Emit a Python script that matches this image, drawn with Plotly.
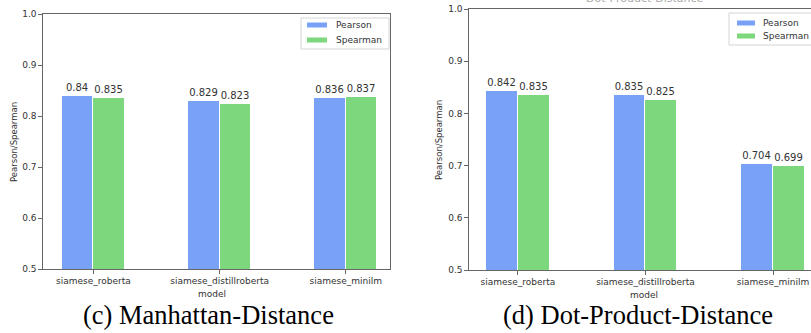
import plotly.graph_objects as go

models = ["siamese_roberta", "siamese_distillroberta", "siamese_minilm"]
series_names = ["Pearson", "Spearman"]
manhattan_pearson = [0.84, 0.829, 0.836]
manhattan_spearman = [0.835, 0.823, 0.837]
dot_pearson = [0.842, 0.835, 0.704]
dot_spearman = [0.835, 0.825, 0.699]
y_ticks = [0.5, 0.6, 0.7, 0.8, 0.9, 1.0]
captions = ["(c) Manhattan-Distance", "(d) Dot-Product-Distance"]

BLUE = "#79a2f6"
GREEN = "#7dd77c"
FONT = "DejaVu Sans"
TXT = "#333333"
xs = list(range(len(models)))

fig = go.Figure()

def add_pair(pear, spear, xa, ya):
    for name, vals, off, col in [(series_names[0], pear, -0.25, BLUE), (series_names[1], spear, 0.0, GREEN)]:
        fig.add_trace(go.Bar(
            x=xs, y=vals, width=0.25, offset=off, name=name, showlegend=False,
            marker=dict(color=col, line=dict(color="white", width=1)),
            text=[f"{v:g}" for v in vals], textposition="outside",
            textfont=dict(family=FONT, size=10, color=TXT),
            cliponaxis=False, xaxis=xa, yaxis=ya,
        ))

add_pair(manhattan_pearson, manhattan_spearman, "x", "y")
add_pair(dot_pearson, dot_spearman, "x2", "y2")

W, H = 811, 333
def px(x):
    return x / W
def py(y):
    return 1 - y / H

axis_common = dict(showgrid=False, zeroline=False, showline=True, linecolor="#666666",
                   linewidth=1.3, ticks="outside", ticklen=3.5, tickcolor="#666666",
                   tickfont=dict(family=FONT, size=9, color=TXT))

fig.update_layout(
    width=W, height=H, margin=dict(l=0, r=0, t=0, b=0, autoexpand=False),
    paper_bgcolor="white", plot_bgcolor="white", bargap=0, barmode="overlay",
    showlegend=False,
    xaxis=dict(domain=[px(43), px(390)], range=[-0.40, 2.35], tickvals=xs, ticktext=models,
               mirror=True, anchor="y", **axis_common),
    yaxis=dict(domain=[py(269), py(14)], range=[0.5, 1.0], tickvals=y_ticks,
               tickformat=".1f", mirror=True, anchor="x", **axis_common),
    xaxis2=dict(domain=[px(469), 1.0], range=[-0.384, 2.298], tickvals=xs, ticktext=models,
                mirror=True, anchor="y2", **axis_common),
    yaxis2=dict(domain=[py(270), py(9)], range=[0.5, 1.0], tickvals=y_ticks,
                tickformat=".1f", mirror=False, anchor="x2", **axis_common),
)

shapes = []
ann = []

def text_at(x, y, text, size, color=TXT, family=FONT, angle=0, xanchor="center"):
    ann.append(dict(x=px(x), y=py(y), text=text, showarrow=False, xref="paper", yref="paper",
                    xanchor=xanchor, yanchor="middle", textangle=angle,
                    font=dict(family=family, size=size, color=color)))

def legend_box(x0, y0, x1, y1, patch_x0, patch_x1, text_x, rows):
    shapes.append(dict(type="rect", xref="paper", yref="paper", x0=px(x0), x1=px(x1),
                       y0=py(y1), y1=py(y0), line=dict(color="#d5d5d5", width=1),
                       fillcolor="white", layer="above"))
    for (yc, name, col) in rows:
        shapes.append(dict(type="rect", xref="paper", yref="paper", x0=px(patch_x0), x1=px(patch_x1),
                           y0=py(yc + 2.5), y1=py(yc - 2.5), line=dict(width=0),
                           fillcolor=col, layer="above"))
        text_at(text_x, yc, name, 9, xanchor="left")

legend_box(301, 18, 389, 49, 307, 327, 334,
           [(25, series_names[0], BLUE), (40, series_names[1], GREEN)])
legend_box(729, 13, 830, 45, 737, 755, 761,
           [(23, series_names[0], BLUE), (36, series_names[1], GREEN)])

# y-axis titles
text_at(14, 142, "Pearson/Spearman", 8.5, angle=-90)
text_at(439, 140, "Pearson/Spearman", 8.5, angle=-90)
# x-axis titles
text_at(212, 294, "model", 9)
text_at(644, 295, "model", 9)
# clipped title of right panel
text_at(645, -1, "Dot-Product-Distance", 11, color="#aaaaaa")
# captions
text_at(208, 315, captions[0], 26.5, color="black", family="Liberation Serif")
text_at(638, 315, captions[1], 26.5, color="black", family="Liberation Serif")
fig.update_layout(annotations=ann, shapes=shapes)

fig.write_html("out.html", config={"displayModeBar": False},
               post_script="document.body.style.margin='0';document.body.style.overflow='hidden';")
